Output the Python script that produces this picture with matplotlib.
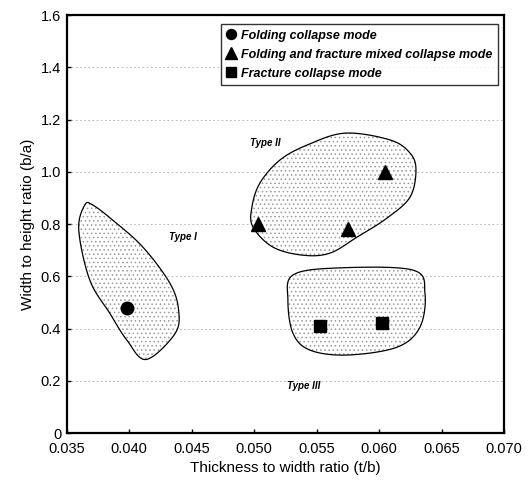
import numpy as np
import matplotlib
matplotlib.use("Agg")
from matplotlib import pyplot as plt
from matplotlib.patches import Polygon

plt.rcParams['font.family'] = ['Liberation Sans', 'DejaVu Sans']
plt.rcParams['hatch.color'] = '#9a9a9a'
plt.rcParams['hatch.linewidth'] = 0.6

# test results
folding_x = [0.0398]
folding_y = [0.48]
mixed_x = [0.0503, 0.0575, 0.0605]
mixed_y = [0.80, 0.78, 1.00]
fracture_x = [0.0553, 0.0602]
fracture_y = [0.41, 0.42]

# outline control points of the three collapse regions
type1_x = [0.03644, 0.03596, 0.03684, 0.03844, 0.03981, 0.04135, 0.04365, 0.04395, 0.04325, 0.04109, 0.03868, 0.03708]
type1_y = [0.873, 0.777, 0.586, 0.459, 0.356, 0.282, 0.380, 0.471, 0.574, 0.712, 0.815, 0.873]
type2_x = [0.0499, 0.04982, 0.05046, 0.05206, 0.05422, 0.05727, 0.06087, 0.06247, 0.06295, 0.06247, 0.06063, 0.05823, 0.05607, 0.0539, 0.0515]
type2_y = [0.789, 0.865, 0.957, 1.045, 1.102, 1.148, 1.122, 1.072, 1.007, 0.903, 0.823, 0.750, 0.689, 0.681, 0.712]
type3_x = [0.0531, 0.05663, 0.06271, 0.06367, 0.06327, 0.06143, 0.05743, 0.05446, 0.0531, 0.0527]
type3_y = [0.605, 0.632, 0.624, 0.536, 0.406, 0.329, 0.299, 0.318, 0.383, 0.509]

xticks = [0.035, 0.040, 0.045, 0.050, 0.055, 0.060, 0.065, 0.070]
yticks = [0, 0.2, 0.4, 0.6, 0.8, 1.0, 1.2, 1.4, 1.6]
ytick_labels = ["0", "0.2", "0.4", "0.6", "0.8", "1.0", "1.2", "1.4", "1.6"]


def closed_spline(xs, ys, n=30):
    # periodic Catmull-Rom through the control points
    p = np.column_stack([xs, ys])
    k = len(p)
    out = []
    for i in range(k):
        p0, p1, p2, p3 = p[(i - 1) % k], p[i], p[(i + 1) % k], p[(i + 2) % k]
        t = np.linspace(0, 1, n, endpoint=False)[:, None]
        out.append(0.5 * ((2 * p1) + (-p0 + p2) * t + (2 * p0 - 5 * p1 + 4 * p2 - p3) * t ** 2
                          + (-p0 + 3 * p1 - 3 * p2 + p3) * t ** 3))
    return np.vstack(out)


fig = plt.figure(figsize=(5.3, 4.84), dpi=100)
ax = fig.add_axes([0.126, 0.105, 0.825, 0.864])

for gy in yticks[1:-1]:
    ax.axhline(gy, color='#b0b0b0', lw=0.6, ls=(0, (2, 3)), zorder=0)

for xs, ys in [(type1_x, type1_y), (type2_x, type2_y), (type3_x, type3_y)]:
    pts = closed_spline(xs, ys)
    ax.add_patch(Polygon(pts, closed=True, facecolor='white', edgecolor='#9a9a9a',
                         hatch='....', lw=0, zorder=1))
    ax.add_patch(Polygon(pts, closed=True, facecolor='none', edgecolor='black', lw=0.9, zorder=2))

ax.plot(folding_x, folding_y, 'o', color='black', ms=9, label='Folding collapse mode', zorder=3)
ax.plot(mixed_x, mixed_y, '^', color='black', ms=10, label='Folding and fracture mixed collapse mode', zorder=3)
ax.plot(fracture_x, fracture_y, 's', color='black', ms=9, label='Fracture collapse mode', zorder=3)

lab = dict(fontsize=7, fontweight='bold', fontstyle='italic')
ax.text(0.0432, 0.74, 'Type I', **lab)
ax.text(0.0497, 1.10, 'Type II', **lab)
ax.text(0.0526, 0.17, 'Type III', **lab)

ax.set_xlim(0.035, 0.070)
ax.set_ylim(0, 1.6)
ax.set_xticks(xticks)
ax.set_xticklabels(["%.3f" % v for v in xticks])
ax.set_yticks(yticks)
ax.set_yticklabels(ytick_labels)
ax.tick_params(direction='in', length=3, width=1, labelsize=10.5, pad=4)
ax.tick_params(axis='x', pad=6)
for s in ax.spines.values():
    s.set_linewidth(1.6)

ax.set_xlabel('Thickness to width ratio (t/b)', fontsize=11)
ax.set_ylabel('Width to height ratio (b/a)', fontsize=11)

leg = ax.legend(loc='upper left', bbox_to_anchor=(0.352, 0.978), frameon=True, fancybox=False,
                edgecolor='black', prop=dict(size=9, weight='bold', style='italic'),
                handletextpad=0.4, borderpad=0.45, labelspacing=0.55, handlelength=0.8,
                markerscale=0.8, borderaxespad=0)
leg.get_frame().set_linewidth(1.0)

fig.savefig('out.png', dpi=100)
